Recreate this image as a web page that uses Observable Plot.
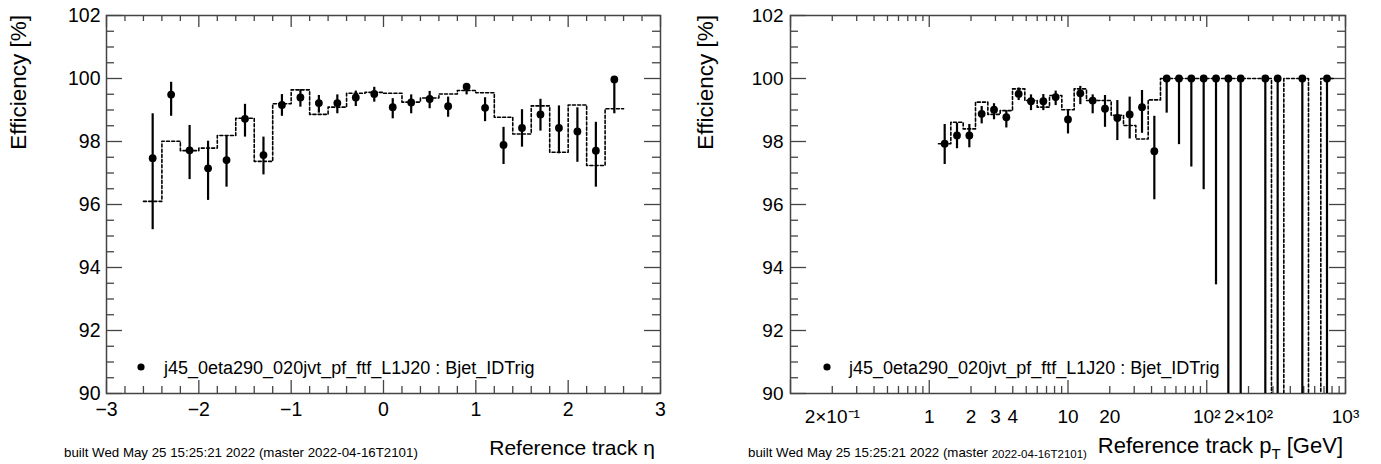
<!DOCTYPE html>
<html><head><meta charset="utf-8">
<script src="https://cdn.jsdelivr.net/npm/d3@7"></script>
<script src="https://cdn.jsdelivr.net/npm/@observablehq/plot@0.6"></script>
<style>
body{margin:0;background:#fff;}
#wrap{position:relative;width:1381px;height:464px;overflow:hidden;font-family:"Liberation Sans",Arial,Helvetica,sans-serif;}
#wrap > *{position:absolute;top:0;}
</style></head><body><div id="wrap"></div>
<script>
// ---------- data: left panel (vs eta) ----------
const etaCenters = [-2.5,-2.3,-2.1,-1.9,-1.7,-1.5,-1.3,-1.1,-0.9,-0.7,-0.5,-0.3,-0.1,0.1,0.3,0.5,0.7,0.9,1.1,1.3,1.5,1.7,1.9,2.1,2.3,2.5];
const etaEff  = [97.47,99.49,97.72,97.15,97.41,98.72,97.57,99.16,99.40,99.22,99.22,99.40,99.51,99.09,99.24,99.35,99.12,99.74,99.07,97.89,98.43,98.86,98.43,98.32,97.71,99.97];
const etaLow  = [95.20,98.80,96.79,96.13,96.55,98.14,96.94,98.80,99.09,98.90,98.88,99.11,99.25,98.72,98.88,99.04,98.77,99.48,98.63,97.27,97.82,98.33,97.61,97.34,96.55,98.88];
const etaHigh = [98.88,99.88,98.51,98.01,98.16,99.18,98.14,99.49,99.64,99.46,99.48,99.60,99.72,99.36,99.48,99.59,99.41,99.83,99.39,98.45,99.01,99.34,99.13,99.07,98.61,100.0];
const etaRef  = [96.10,98.01,97.71,97.79,98.19,98.74,97.37,99.20,99.64,98.86,99.09,99.53,99.56,99.53,99.25,99.38,99.51,99.62,99.55,98.77,98.24,99.13,97.66,99.16,97.24,99.04];
const etaBinHalfWidth = 0.1;

// ---------- data: right panel (vs pT, log bins) ----------
const ptCenters = [1.292,1.585,1.945,2.387,2.929,3.594,4.410,5.412,6.641,8.149,10.0,12.27,15.06,18.48,22.68,27.83,34.15,41.90,51.42,63.10,77.43,95.01,116.6,143.1,175.6,215.4,264.3,324.4,398.1,488.5,599.5,735.6];
const ptEff  = [97.93,98.19,98.19,98.88,99.01,98.77,99.51,99.28,99.28,99.41,98.70,99.53,99.30,99.04,98.75,98.86,99.09,97.69,100,100,100,100,100,100,100,null,100,100,null,100,null,100];
const ptLow  = [97.27,97.77,97.80,98.56,98.69,98.43,99.30,98.98,98.98,99.14,98.24,99.17,98.88,98.45,98.03,98.08,98.26,96.15,98.90,97.90,97.19,96.47,93.45,85.0,80.0,null,70.0,60.0,null,50.0,null,40.0];
const ptHigh = [98.54,98.58,98.54,99.11,99.20,98.98,99.70,99.48,99.49,99.60,98.98,99.75,99.48,99.46,99.30,99.41,99.62,98.80,100,100,100,100,100,100,100,null,100,100,null,100,null,100];
const ptRef  = [97.93,98.61,98.40,99.25,98.86,98.98,99.67,99.30,99.09,99.46,99.01,99.67,99.30,99.30,98.83,98.51,98.08,99.32,100,100,100,100,100,100,100,100,100,0,100,100,0,100];
const ptBinHalfWidthDecades = 2/45;

// ---------- axis tick labels ----------
const yTickValues = [90,92,94,96,98,100,102];
const etaTickValues = [-3,-2,-1,0,1,2,3];
const etaTickLabels = ["\u22123","\u22122","\u22121","0","1","2","3"];
const ptTickValues = [0.2,1,2,3,4,10,20,100,200,1000];
const ptTickLabels = ["2\u00d710\u207b\u00b9","1","2","3","4","10","20","10\u00b2","2\u00d710\u00b2","10\u00b3"];

const legendText = "j45_0eta290_020jvt_pf_ftf_L1J20 : Bjet_IDTrig";
const yTitle = "Efficiency [%]";
const footerMain = "built Wed May 25 15:25:21 2022 (master ";
const footerTag = "2022-04-16T2101)";

// ---------- helpers ----------
const FONT = '"Liberation Sans",Arial,Helvetica,sans-serif';
const AX = "#444";
const H = 464, MT = 15, MB = 71;
const FH = H - MT - MB;

function rows(xs, eff, lo, hi) {
  return xs.map((x,i)=>({x, y: eff[i], lo: lo[i], hi: hi[i]})).filter(d=>d.y!=null);
}
function steps(xs, ref, loEdge, hiEdge) {
  const out = [];
  xs.forEach((x,i)=>{ out.push({x: loEdge(x), y: ref[i]}); out.push({x: hiEdge(x), y: ref[i]}); });
  return out;
}
function frameTicks(fw, yMajor, yMinor, xMajor, xMinor) {
  const s = {stroke: AX, strokeWidth: 1.3};
  return [
    Plot.tickY(yMajor, {y: d=>d, insetRight: fw-16, ...s}),
    Plot.tickY(yMinor, {y: d=>d, insetRight: fw-8, ...s}),
    Plot.tickY(yMajor, {y: d=>d, insetLeft: fw-16, ...s}),
    Plot.tickY(yMinor, {y: d=>d, insetLeft: fw-8, ...s}),
    Plot.tickX(xMajor, {x: d=>d, insetTop: FH-13, ...s}),
    Plot.tickX(xMinor, {x: d=>d, insetTop: FH-7, ...s}),
    Plot.tickX(xMajor, {x: d=>d, insetBottom: FH-12, ...s}),
    Plot.tickX(xMinor, {x: d=>d, insetBottom: FH-6, ...s}),
    Plot.frame({stroke: AX, strokeWidth: 1.5})
  ];
}
const yMinor = d3.range(90, 102.001, 0.5).filter(v=>!yTickValues.includes(v));

// ---------- left panel ----------
{
  const W = 690, ML = 106, MR = 30, fw = W-ML-MR;
  const pts = rows(etaCenters, etaEff, etaLow, etaHigh);
  const hist = steps(etaCenters, etaRef, x=>x-etaBinHalfWidth, x=>x+etaBinHalfWidth);
  const xMinor = d3.range(-3, 3.001, 0.2).map(v=>Math.round(v*10)/10).filter(v=>!etaTickValues.includes(v));
  const p = Plot.plot({
    width: W, height: H, marginLeft: ML, marginRight: MR, marginTop: MT, marginBottom: MB,
    x: {domain: [-3,3], axis: null},
    y: {domain: [90,102], axis: null},
    style: {fontFamily: FONT, background: "transparent", overflow: "visible"},
    marks: [
      ...frameTicks(fw, yTickValues, yMinor, etaTickValues, xMinor),
      Plot.line(hist, {x:"x", y:"y", stroke:"black", strokeWidth:1.6, strokeDasharray:"3,2.2", clip:true}),
      Plot.ruleX(pts, {x:"x", y1:"lo", y2:"hi", stroke:"black", strokeWidth:2.2, clip:true}),
      Plot.dot(pts, {x:"x", y:"y", r:3.9, fill:"black", stroke:"none"}),
      Plot.text(yTickValues, {y:d=>d, text:d=>String(d), frameAnchor:"left", textAnchor:"end", dx:-6, fontSize:19.5, fill:"black"}),
      Plot.text(etaTickValues, {x:d=>d, text:(d,i)=>etaTickLabels[i], frameAnchor:"bottom", lineAnchor:"top", dy:9, fontSize:19.5, fill:"black"})
    ]
  });
  p.style.left = "0px";
  document.getElementById("wrap").appendChild(p);
}

// ---------- right panel ----------
{
  const OX = 690, W = 691, ML = 100, MR = 36, fw = W-ML-MR;
  const pts = rows(ptCenters, ptEff, ptLow, ptHigh);
  const f = Math.pow(10, ptBinHalfWidthDecades);
  const hist = steps(ptCenters, ptRef, x=>x/f, x=>x*f);
  const decades = [0.1,1,10,100,1000];
  const xMinor = [];
  [0.1,1,10,100].forEach(d=>{ for (let k=2;k<=9;k++) xMinor.push(d*k); });
  const p = Plot.plot({
    width: W, height: H, marginLeft: ML, marginRight: MR, marginTop: MT, marginBottom: MB,
    x: {type:"log", domain: [0.1,1000], axis: null},
    y: {domain: [90,102], axis: null},
    style: {fontFamily: FONT, background: "transparent", overflow: "visible"},
    marks: [
      ...frameTicks(fw, yTickValues, yMinor, decades, xMinor),
      Plot.line(hist, {x:"x", y:"y", stroke:"black", strokeWidth:1.6, strokeDasharray:"3,2.2", clip:true}),
      Plot.ruleX(pts, {x:"x", y1:"lo", y2:"hi", stroke:"black", strokeWidth:2.2, clip:true}),
      Plot.dot(pts, {x:"x", y:"y", r:3.9, fill:"black", stroke:"none"}),
      Plot.text(yTickValues, {y:d=>d, text:d=>String(d), frameAnchor:"left", textAnchor:"end", dx:-7, fontSize:19, fill:"black"}),
      Plot.text(ptTickValues, {x:d=>d, text:(d,i)=>ptTickLabels[i], frameAnchor:"bottom", lineAnchor:"top", dy:16, fontSize:19, fill:"black"})
    ]
  });
  p.style.left = OX + "px";
  document.getElementById("wrap").appendChild(p);
}

// ---------- titles, legend, footer overlay ----------
{
  const ns = "http://www.w3.org/2000/svg";
  const svg = document.createElementNS(ns, "svg");
  svg.setAttribute("width", 1381); svg.setAttribute("height", 464);
  svg.style.fontFamily = FONT; svg.style.left = "0px";
  function txt(x, y, s, size, anchor, extra) {
    const t = document.createElementNS(ns, "text");
    t.setAttribute("x", x); t.setAttribute("y", y);
    t.setAttribute("font-size", size);
    t.setAttribute("text-anchor", anchor || "start");
    if (extra) for (const k in extra) t.setAttribute(k, extra[k]);
    t.textContent = s; svg.appendChild(t); return t;
  }
  function sub(t, s, size, shift) {
    const ts = document.createElementNS(ns, "tspan");
    ts.setAttribute("font-size", size);
    if (shift) ts.setAttribute("dy", shift);
    ts.textContent = s; t.appendChild(ts); return ts;
  }
  // y titles
  txt(0, 0, yTitle, 22.5, "end", {transform: "translate(26,15) rotate(-90)"});
  txt(0, 0, yTitle, 22.5, "end", {transform: "translate(713,15) rotate(-90)"});
  // x titles
  txt(655, 455, "Reference track \u03b7", 21, "end");
  const t2 = txt(1343, 453, "Reference track p", 22, "end");
  sub(t2, "T", 15, 6);
  sub(t2, " [GeV]", 22, -6);
  // legends
  [[141, 164], [827, 849]].forEach(([cx, tx])=>{
    const c = document.createElementNS(ns, "circle");
    c.setAttribute("cx", cx); c.setAttribute("cy", 367); c.setAttribute("r", 3.6);
    svg.appendChild(c);
    txt(tx, 374, legendText, 18, "start");
  });
  // footers
  txt(64, 457, footerMain + footerTag, 13.3, "start");
  const f2 = txt(748, 457, footerMain, 13.3, "start");
  sub(f2, footerTag, 11.5, 1);
  document.getElementById("wrap").appendChild(svg);
}
</script></body></html>
